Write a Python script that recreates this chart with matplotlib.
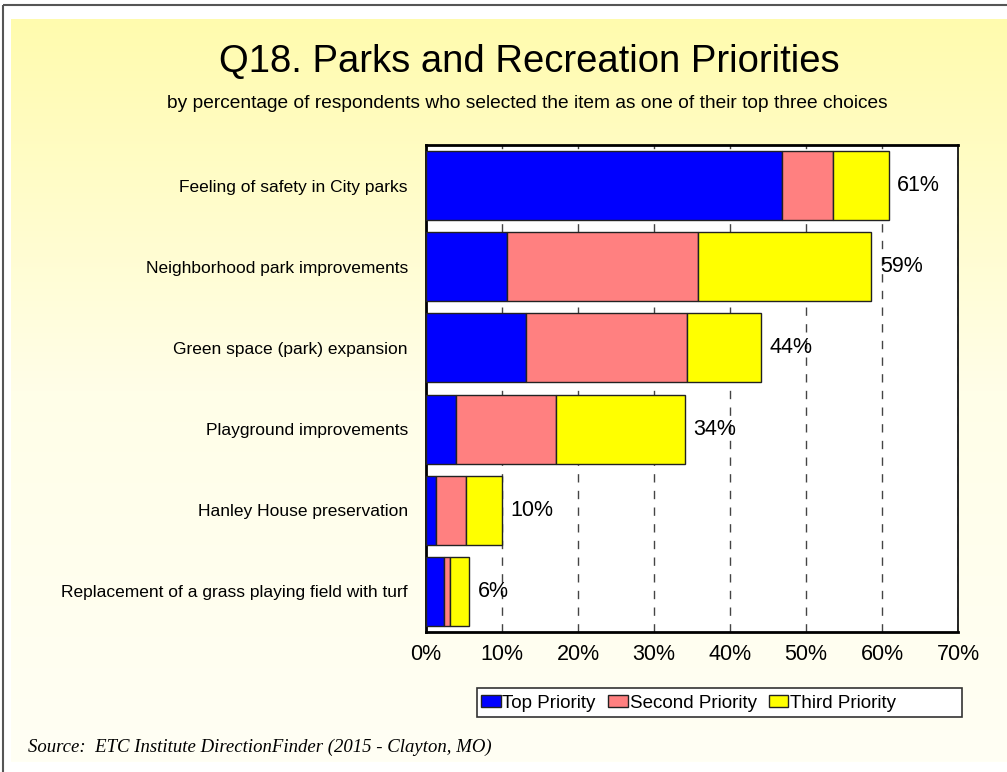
import matplotlib.pyplot as plt
import numpy as np
from matplotlib.patches import Rectangle
from matplotlib.colors import LinearSegmentedColormap

plt.rcParams['font.family'] = ['Liberation Sans', 'DejaVu Sans']

# 数据
categories = ['Feeling of safety in City parks',
              'Neighborhood park improvements',
              'Green space (park) expansion',
              'Playground improvements',
              'Hanley House preservation',
              'Replacement of a grass playing field with turf']
top_priority = [46.9, 10.6, 13.2, 3.9, 1.3, 2.4]
second_priority = [6.6, 25.2, 21.1, 13.2, 3.9, 0.7]
third_priority = [7.4, 22.8, 9.8, 17.0, 4.8, 2.6]
total_labels = ['61%', '59%', '44%', '34%', '10%', '6%']
series_names = ['Top Priority', 'Second Priority', 'Third Priority']
series_colors = ['#0000FF', '#FF8080', '#FFFF00']
xticks = [0, 10, 20, 30, 40, 50, 60, 70]

W, H = 1007, 772
fig = plt.figure(figsize=(W / 100, H / 100), dpi=100)
fig.patch.set_facecolor('white')

# 背景渐变
bg = fig.add_axes([0, 0, 1, 1], zorder=-10)
bg.set_xlim(0, W)
bg.set_ylim(H, 0)
bg.axis('off')
cmap = LinearSegmentedColormap.from_list('bgy', ['#FFFBAE', '#FFFEE8', '#FFFFF4'])
grad = np.linspace(0, 1, 256).reshape(-1, 1)
bg.imshow(grad, cmap=cmap, extent=[11, W, 762, 19], aspect='auto', zorder=0)
bg.add_patch(Rectangle((3, 5), W, H, fill=False, edgecolor='#555555', lw=1.5, zorder=1))
# 图例外框
bg.add_patch(Rectangle((477, 688), 485, 29, facecolor='white', edgecolor='#333333', lw=1.2, zorder=2))

ax = fig.add_axes([426 / W, 1 - 632 / H, (958 - 426) / W, (632 - 145) / H])
ax.set_facecolor('white')

y = np.arange(len(categories))
left = np.zeros(len(categories))
bars = []
for vals, name, col in zip([top_priority, second_priority, third_priority], series_names, series_colors):
    b = ax.barh(y, vals, left=left, height=0.85, color=col, edgecolor='#222222', linewidth=1.0,
                label=name, zorder=3)
    bars.append(b)
    left = left + np.array(vals)

for yi, tot, lab in zip(y, left, total_labels):
    ax.annotate(lab, (tot, yi), xytext=(6, 0), textcoords='offset points',
                va='center', ha='left', fontsize=15.5, zorder=4)

ax.set_xlim(0, 70)
ax.set_ylim(len(categories) - 0.5, -0.5)
ax.set_xticks(xticks)
ax.set_xticklabels([f'{t}%' for t in xticks], fontsize=15.5)
ax.set_yticks(y)
ax.set_yticklabels(categories, fontsize=12.5)
ax.tick_params(axis='y', length=0, pad=13)
ax.tick_params(axis='x', length=0, pad=9)
ax.xaxis.grid(True, linestyle=(0, (6, 6)), color='#444444', linewidth=1.0, zorder=0)
ax.set_axisbelow(True)
for side in ['left', 'top', 'bottom']:
    ax.spines[side].set_linewidth(2)
ax.spines['right'].set_linewidth(1.2)

fig.text(529 / W, 1 - 62 / H, 'Q18. Parks and Recreation Priorities', ha='center', va='center', fontsize=27.5)
fig.text(527 / W, 1 - 104 / H,
         'by percentage of respondents who selected the item as one of their top three choices',
         ha='center', va='center', fontsize=13.8)
fig.text(28 / W, 1 - 747 / H, 'Source:  ETC Institute DirectionFinder (2015 - Clayton, MO)',
         ha='left', va='center', fontsize=13.5, style='italic', family=['Liberation Serif', 'DejaVu Serif'])

leg = fig.legend(handles=bars, labels=series_names, loc='center left', bbox_to_anchor=(479 / W, 1 - 703 / H),
                 ncol=3, fontsize=13.5, frameon=False,
                 handlelength=1.05, handleheight=0.6, handletextpad=0.1, columnspacing=0.65,
                 borderpad=0.1, borderaxespad=0)

fig.savefig('out.png', dpi=100)
